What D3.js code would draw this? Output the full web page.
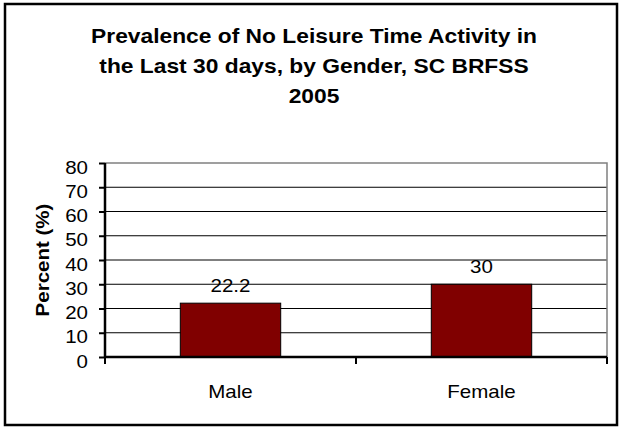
<!DOCTYPE html>
<html>
<head>
<meta charset="utf-8">
<script src="https://cdn.jsdelivr.net/npm/d3@7"></script>
<style>
  body { margin: 0; background: #fff; }
  text { font-family: "Liberation Sans", Arial, sans-serif; }
</style>
</head>
<body>
<div id="graph"></div>
<script>
'use strict';

// chart data
const categories = ["Male", "Female"];
const values = [22.2, 30];
const yTicks = [0, 10, 20, 30, 40, 50, 60, 70, 80];
const titleLines = ["Prevalence of No Leisure Time Activity in", "the Last 30 days, by Gender, SC BRFSS", "2005"];

(function() {

  const stretch = 1.14; // the original text looks a bit wide

  const svg = d3.select('#graph')
    .append('svg')
    .attr('width', 622)
    .attr('height', 428);

  // outer frame
  svg.append('rect')
    .attr('x', 5).attr('y', 4)
    .attr('width', 612).attr('height', 421)
    .attr('fill', '#fff')
    .attr('stroke', '#000')
    .attr('stroke-width', 2.5);

  // title
  svg.append('g').selectAll('text')
    .data(titleLines)
    .enter()
    .append('text')
      .attr('transform', (d, i) => `translate(314, ${43 + 30 * i}) scale(${stretch}, 1)`)
      .attr('text-anchor', 'middle')
      .style('font-size', '20px')
      .style('font-weight', 'bold')
      .text(d => d);

  // plot area
  const pLeft = 105, pRight = 607, pTop = 163, pBottom = 357;

  const x = d3.scaleBand()
    .domain(categories)
    .range([pLeft, pRight])
    .paddingInner(0.6)
    .paddingOuter(0.3);

  const xCat = d3.scaleBand()
    .domain(categories)
    .range([pLeft, pRight]);

  const y = d3.scaleLinear()
    .domain([0, 80])
    .range([pBottom, pTop]);

  // gridlines
  svg.append('g').selectAll('line')
    .data(yTicks.filter(t => t > 0 && t < 80))
    .enter()
    .append('line')
      .attr('x1', pLeft).attr('x2', pRight)
      .attr('y1', d => y(d)).attr('y2', d => y(d))
      .attr('stroke', '#000')
      .attr('stroke-width', 1);

  // grey plot border (top and right)
  svg.append('path')
    .attr('d', `M${pLeft},${y(80)}H${pRight}V${pBottom}`)
    .attr('fill', 'none')
    .attr('stroke', '#808080')
    .attr('stroke-width', 1.5);

  // bars
  svg.append('g').selectAll('rect')
    .data(values)
    .enter()
    .append('rect')
      .attr('x', (d, i) => x(categories[i]))
      .attr('y', d => y(d))
      .attr('width', x.bandwidth())
      .attr('height', d => y(0) - y(d))
      .attr('fill', '#800000')
      .attr('stroke', '#000')
      .attr('stroke-width', 1);

  // value labels
  svg.append('g').selectAll('text')
    .data(values)
    .enter()
    .append('text')
      .attr('transform', (d, i) => `translate(${x(categories[i]) + x.bandwidth() / 2}, ${y(d) - 11}) scale(${stretch}, 1)`)
      .attr('text-anchor', 'middle')
      .style('font-size', '18px')
      .text(d => d);

  // y axis
  const yAxis = d3.axisLeft(y)
    .tickValues(yTicks)
    .tickSize(6)
    .tickPadding(10);
  const gy = svg.append('g')
    .attr('transform', `translate(${pLeft}, 0)`)
    .call(yAxis);
  gy.select('.domain').attr('stroke-width', 2.5).attr('d', `M0,${pTop}V${pBottom}`);
  gy.selectAll('.tick line').attr('stroke-width', 2);
  gy.selectAll('.tick text')
    .attr('x', -17 / stretch)
    .attr('dy', 10)
    .attr('transform', `scale(${stretch}, 1)`)
    .style('font-size', '18px')
    .style('font-family', '"Liberation Sans", Arial, sans-serif');

  // x axis: ticks at category boundaries
  const gx = svg.append('g')
    .attr('transform', `translate(0, ${pBottom})`);
  gx.append('line')
    .attr('x1', pLeft).attr('x2', pRight)
    .attr('stroke', '#000')
    .attr('stroke-width', 2.5);
  const boundaries = categories.map(c => xCat(c)).concat([pRight]);
  gx.selectAll('.xtick')
    .data(boundaries)
    .enter()
    .append('line')
      .attr('class', 'xtick')
      .attr('x1', d => d).attr('x2', d => d)
      .attr('y1', 0).attr('y2', 7)
      .attr('stroke', '#000')
      .attr('stroke-width', 2);
  gx.selectAll('.xlabel')
    .data(categories)
    .enter()
    .append('text')
      .attr('class', 'xlabel')
      .attr('transform', d => `translate(${xCat(d) + xCat.bandwidth() / 2}, 41) scale(${stretch}, 1)`)
      .attr('text-anchor', 'middle')
      .style('font-size', '18px')
      .text(d => d);

  // y axis title
  svg.append('text')
    .attr('transform', `translate(49, ${(pTop + pBottom) / 2}) rotate(-90) scale(${stretch}, 1)`)
    .attr('text-anchor', 'middle')
    .style('font-size', '18px')
    .style('font-weight', 'bold')
    .text('Percent (%)');

})();
</script>
</body>
</html>
